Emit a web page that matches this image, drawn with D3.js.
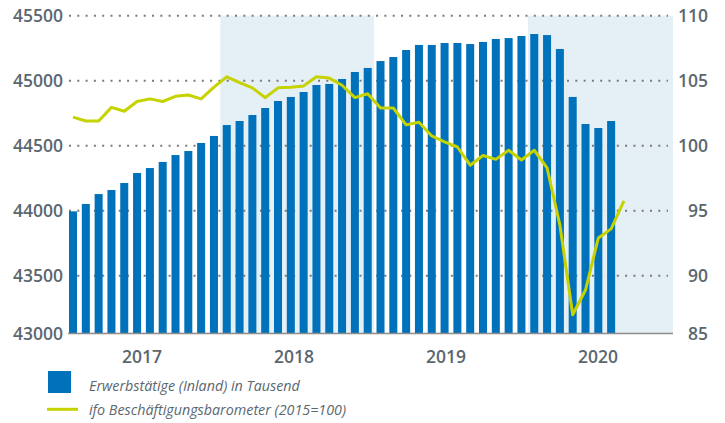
<!DOCTYPE html>
<html>
<head>
<meta charset="utf-8">
<script src="https://cdn.jsdelivr.net/npm/d3@7"></script>
<style>
  html, body { margin: 0; padding: 0; background: #fff; }
  svg { display: block; font-family: 'Open Sans', sans-serif; }
</style>
</head>
<body>
<div id="chart"></div>
<script>
// Erwerbstätige (Inland), Tausend — monthly from Jan 2017
const employed = [
  43995, 44052, 44128, 44159, 44213, 44290, 44328, 44375, 44428, 44459, 44521, 44575,
  44659, 44690, 44736, 44790, 44844, 44875, 44913, 44967, 44975, 45013, 45067, 45098,
  45151, 45182, 45236, 45275, 45275, 45290, 45290, 45282, 45298, 45321, 45328, 45344,
  45359, 45351, 45244, 44875, 44667, 44636, 44690,
];
// ifo Beschäftigungsbarometer (2015=100) — monthly from Jan 2017
const ifoIndex = [
  102.2, 101.9, 101.9, 102.95, 102.65, 103.4, 103.6, 103.4, 103.8, 103.9, 103.6, 104.5,
  105.3, 104.85, 104.45, 103.7, 104.45, 104.5, 104.6, 105.3, 105.2, 104.65, 103.7, 104.0,
  102.9, 102.9, 101.6, 101.8, 100.75, 100.3, 99.9, 98.5, 99.25, 98.95, 99.65, 98.9,
  99.65, 98.3, 93.9, 87.0, 88.9, 92.9, 93.6, 95.75,
];
const years = [2017, 2018, 2019, 2020];
const shadedYears = [2018, 2020];
const leftTicks = [43000, 43500, 44000, 44500, 45000, 45500];
const rightTicks = [85, 90, 95, 100, 105, 110];
const legendLabels = ['Erwerbstätige (Inland) in Tausend', 'ifo Beschäftigungsbarometer (2015=100)'];

const width = 725;
const height = 423;
const plot = { left: 66.6, right: 673, top: 15.7, bottom: 333 };
const colors = {
  bar: '#0071bb',
  line: '#c6d300',
  shade: '#e4eff6',
  text: '#5b6770',
  grid: '#7a7a7a',
  axis: '#8c8c8c',
};

const months = [];
years.forEach((yr) => {
  for (let m = 0; m < 12; m += 1) months.push(`${yr}-${m + 1}`);
});

const x = d3.scaleBand()
  .domain(months)
  .range([plot.left, 681.6])
  .paddingInner(0.375)
  .paddingOuter(0.1875);
const step = x.step();
const xCenter = (i) => x(months[i]) + x.bandwidth() / 2;
// year labels sit on their own, slightly tighter spacing
const xYear = d3.scalePoint().domain(years).range([142, 598]);

// 500 units per 65px on the left, 5 points per 65px on the right
const pxPerUnitL = 65 / 500;
const pxPerUnitR = 65 / 5;
const yLeft = d3.scaleLinear()
  .domain([45500 - (plot.bottom - plot.top) / pxPerUnitL, 45500])
  .range([plot.bottom, plot.top]);
const yRight = d3.scaleLinear()
  .domain([110 - (plot.bottom - plot.top) / pxPerUnitR, 110])
  .range([plot.bottom, plot.top]);

const svg = d3.select('#chart')
  .append('svg')
  .attr('width', width)
  .attr('height', height)
  .attr('viewBox', `0 0 ${width} ${height}`);

// shaded years
svg.append('g')
  .selectAll('rect')
  .data(shadedYears)
  .enter()
  .append('rect')
  .attr('x', (d) => x(`${d}-1`) - (step - x.bandwidth()) / 2)
  .attr('y', plot.top)
  .attr('width', (d) => {
    const x0 = x(`${d}-1`) - (step - x.bandwidth()) / 2;
    return Math.min(x0 + step * 12, plot.right) - x0;
  })
  .attr('height', plot.bottom - plot.top)
  .attr('fill', colors.shade);

// dotted gridlines
svg.append('g')
  .selectAll('line')
  .data(leftTicks.filter((t) => yLeft(t) < plot.bottom - 1))
  .enter()
  .append('line')
  .attr('x1', 69)
  .attr('x2', 668)
  .attr('y1', (d) => yLeft(d))
  .attr('y2', (d) => yLeft(d))
  .attr('stroke', colors.grid)
  .attr('stroke-width', 2)
  .attr('stroke-dasharray', '2,6.3');

// bars
svg.append('g')
  .selectAll('rect')
  .data(employed)
  .enter()
  .append('rect')
  .attr('x', (d, i) => x(months[i]))
  .attr('y', (d) => yLeft(d))
  .attr('width', x.bandwidth())
  .attr('height', (d) => plot.bottom - yLeft(d))
  .attr('fill', colors.bar);

// baseline
svg.append('line')
  .attr('x1', 68)
  .attr('x2', plot.right)
  .attr('y1', plot.bottom + 0.5)
  .attr('y2', plot.bottom + 0.5)
  .attr('stroke', colors.axis)
  .attr('stroke-width', 1.6);

// ifo line
const valueline = d3.line()
  .x((d, i) => xCenter(i))
  .y((d) => yRight(d));
svg.append('path')
  .attr('d', valueline(ifoIndex))
  .attr('fill', 'none')
  .attr('stroke', colors.line)
  .attr('stroke-width', 3)
  .attr('stroke-linejoin', 'round');

// y tick labels
const tickStyle = (sel) => sel
  .attr('fill', colors.text)
  .attr('font-size', '17.5px')
  .attr('font-weight', 600);

svg.append('g')
  .selectAll('text')
  .data(leftTicks)
  .enter()
  .append('text')
  .attr('x', 63)
  .attr('y', (d) => Math.min(yLeft(d), plot.bottom + 1) + 6.3)
  .attr('text-anchor', 'end')
  .text((d) => d)
  .call(tickStyle);

svg.append('g')
  .selectAll('text')
  .data(rightTicks)
  .enter()
  .append('text')
  .attr('x', 708)
  .attr('y', (d) => Math.min(yRight(d), plot.bottom + 1) + 6.3)
  .attr('text-anchor', 'end')
  .text((d) => d)
  .call(tickStyle);

// year labels
svg.append('g')
  .selectAll('text')
  .data(years)
  .enter()
  .append('text')
  .attr('x', (d) => xYear(d))
  .attr('y', 362.5)
  .attr('text-anchor', 'middle')
  .text((d) => d)
  .call(tickStyle);

// legend
const legend = svg.append('g');
legend.append('rect')
  .attr('x', 48)
  .attr('y', 371)
  .attr('width', 23)
  .attr('height', 22)
  .attr('fill', colors.bar);
legend.append('line')
  .attr('x1', 47)
  .attr('x2', 78)
  .attr('y1', 409.3)
  .attr('y2', 409.3)
  .attr('stroke', colors.line)
  .attr('stroke-width', 3);
legend.selectAll('text')
  .data(legendLabels)
  .enter()
  .append('text')
  .attr('x', 89)
  .attr('y', (d, i) => 391 + i * 23.5)
  .attr('fill', colors.text)
  .attr('font-size', '14.3px')
  .attr('font-style', 'italic')
  .text((d) => d);
</script>
</body>
</html>
